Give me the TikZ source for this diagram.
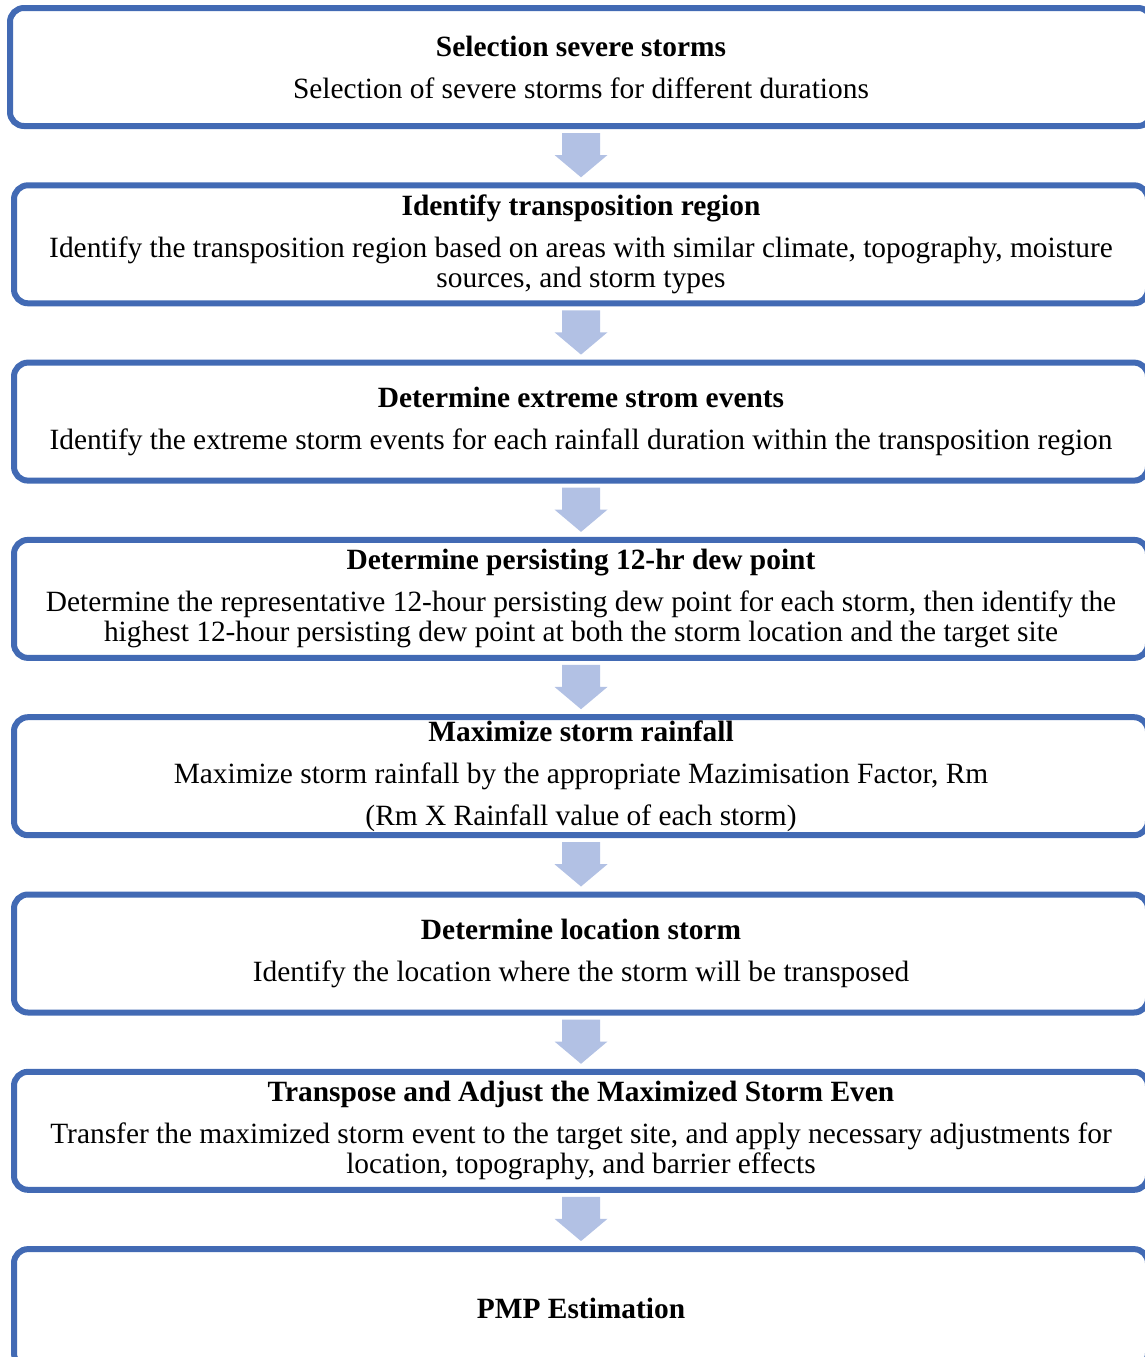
\documentclass[tikz,border=0pt]{standalone}
\usepackage{fontspec}
\setmainfont{Liberation Serif}
\usetikzlibrary{positioning,calc}
\definecolor{boxblue}{RGB}{66,106,180}
\definecolor{arrowblue}{RGB}{178,193,228}

\newcommand\flowarrow[2]{%
  \fill[arrowblue] ($(#1.south)+(-19,4)$) -- ++(38,0) -- ++(0,22) -- ++(7.5,0)
    -- ($(#2.north)+(0,-5)$) -- ($(#1.south)+(-26.5,26)$) -- ++(7.5,0) -- cycle;}

\begin{document}
\begin{tikzpicture}[x=1pt,y=-1pt,node distance=53.3pt,
  font=\fontsize{29.4}{30}\selectfont,
  stage/.style={draw=boxblue,line width=6pt,rounded corners=14pt,fill=white,
    minimum width=1134pt,minimum height=118pt,align=center,inner sep=0pt}]
  \useasboundingbox (0,0) rectangle (1145,1357);
  \clip (0,0) rectangle (1145,1357);

  \node[stage,minimum width=1142pt] (s1) at (581,67)
    {\textbf{Selection severe storms}\\[12pt]
     Selection of severe storms for different durations};
  \node[stage] (s2) [below=of s1]
    {\textbf{Identify transposition region}\\[12pt]
     Identify the transposition region based on areas with similar climate, topography, moisture\\
     sources, and storm types};
  \node[stage] (s3) [below=of s2]
    {\textbf{Determine extreme strom events}\\[12pt]
     Identify the extreme storm events for each rainfall duration within the transposition region};
  \node[stage] (s4) [below=of s3]
    {\textbf{Determine persisting 12-hr dew point}\\[12pt]
     Determine the representative 12-hour persisting dew point for each storm, then identify the\\
     highest 12-hour persisting dew point at both the storm location and the target site};
  \node[stage] (s5) [below=of s4]
    {\textbf{Maximize storm rainfall}\\[12pt]
     Maximize storm rainfall by the appropriate Mazimisation Factor, Rm\\[12pt]
     (Rm X Rainfall value of each storm)};
  \node[stage] (s6) [below=of s5]
    {\textbf{Determine location storm}\\[12pt]
     Identify the location where the storm will be transposed};
  \node[stage] (s7) [below=of s6]
    {\textbf{Transpose and Adjust the Maximized Storm Even}\\[12pt]
     Transfer the maximized storm event to the target site, and apply necessary adjustments for\\
     location, topography, and barrier effects};
  \node[stage] (s8) [below=of s7] {\textbf{PMP Estimation}};

  \flowarrow{s1}{s2}
  \flowarrow{s2}{s3}
  \flowarrow{s3}{s4}
  \flowarrow{s4}{s5}
  \flowarrow{s5}{s6}
  \flowarrow{s6}{s7}
  \flowarrow{s7}{s8}
\end{tikzpicture}
\end{document}
